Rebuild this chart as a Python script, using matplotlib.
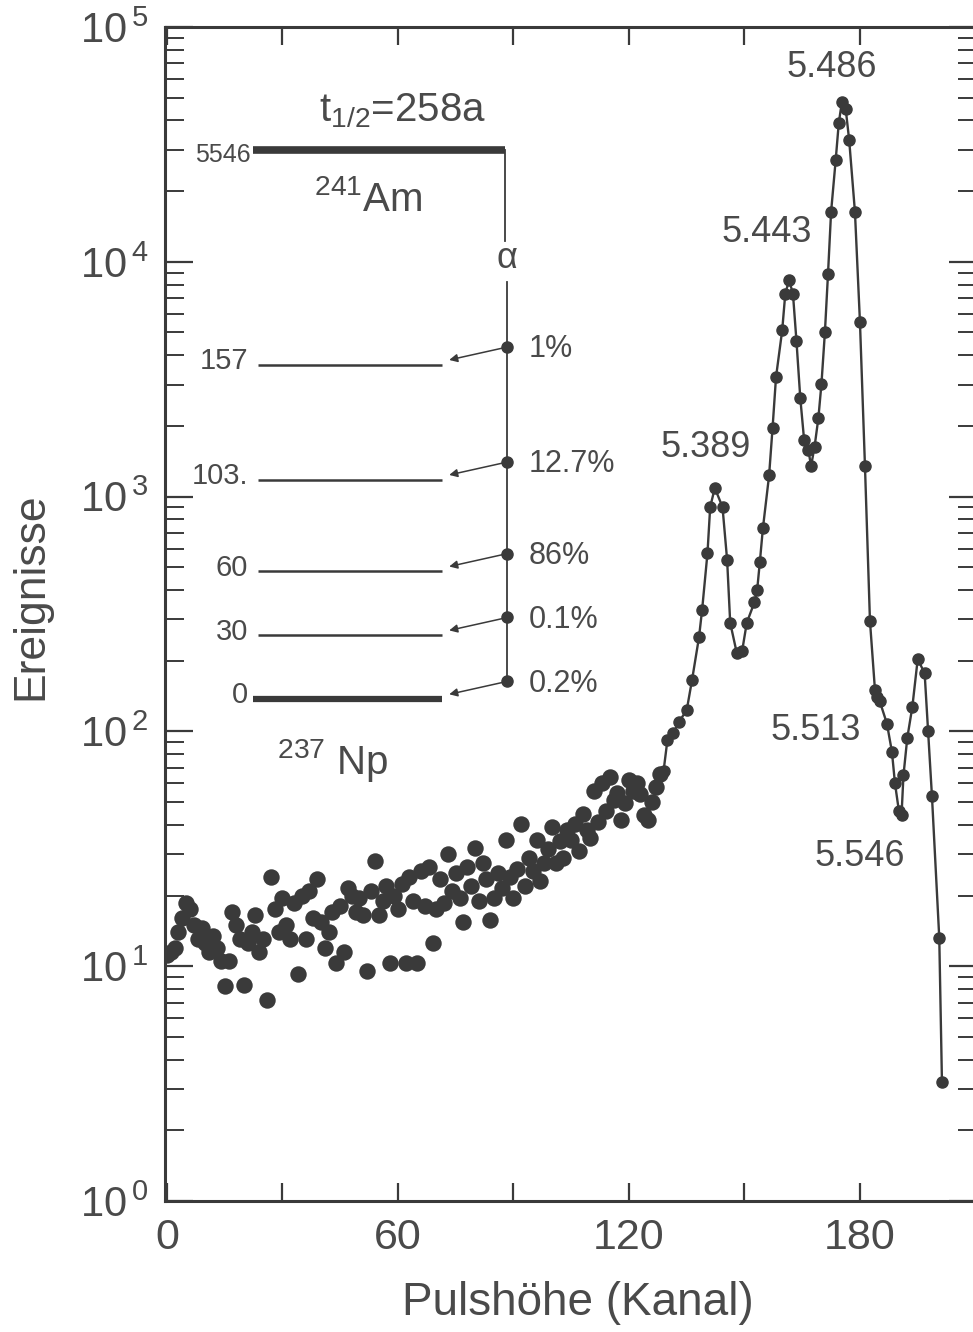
import numpy as np
import matplotlib
matplotlib.use("Agg")
import matplotlib.pyplot as plt
from matplotlib.ticker import LogLocator, NullFormatter

plt.rcParams['font.family'] = ['Liberation Sans', 'DejaVu Sans']
plt.rcParams['mathtext.default'] = 'regular'

INK = '#3a3a3a'
TXT = '#4a4a4a'

# background part of the spectrum (channels 0..128, points only)
bg_channel = np.arange(0, 129)
bg_counts = [11.2, 11.5, 12, 14, 16, 18.5, 17.5, 15, 13, 14.5,
             12.5, 11.5, 13.5, 12, 10.5, 8.2, 10.5, 17, 15, 13,
             8.3, 12.5, 14, 16.5, 11.5, 13, 7.2, 24, 17.5, 14,
             19.5, 15, 13, 18.5, 9.3, 20, 13, 21, 16, 23.5,
             15.5, 12, 14, 17, 10.3, 18, 11.5, 21.5, 20, 17,
             19.5, 16.5, 9.5, 21, 28, 16.5, 19, 22, 10.3, 20,
             17.5, 22.5, 10.3, 24, 19, 10.3, 25.5, 18, 26.5, 12.5,
             17.5, 23.5, 18.5, 30, 21, 25, 19.5, 15.5, 26.5, 22,
             32, 19, 27.5, 23.5, 15.7, 19.5, 25, 21.5, 34.5, 24,
             19.5, 26, 40.5, 22, 29, 25.5, 34.5, 23, 27.5, 31.5,
             39, 27.5, 34, 29, 38, 34.5, 40.5, 31, 44.5, 38,
             35, 56, 41, 60, 46, 64, 51, 54.6, 42, 49.5,
             62, 56, 60, 54, 44, 42, 50, 58, 66]

# alpha peak region (points joined by a line)
pk_channel = [129, 130, 131.5, 133, 135, 136.4, 138.2, 139, 140.4, 141.1,
              142.3, 144.3, 145.5, 146.3, 148, 149.4, 150.6, 152.6, 153.3, 154,
              154.8, 156.4, 157.3, 158.2, 159.8, 160.6, 161.6, 162.6, 163.5, 164.5,
              165.5, 166.6, 167.3, 168.2, 169.2, 170, 170.9, 171.7, 172.5, 173.7,
              174.5, 175.3, 176.3, 177.2, 178.7, 180, 181.3, 182.6, 183.9, 184.5,
              185.1, 187, 188.3, 189.1, 190.1, 190.8, 191.3, 192.3, 193.6, 195,
              196.8, 197.7, 198.7, 200.6, 201.3]
pk_counts = [68, 92, 98, 110, 123, 166, 252, 329, 575, 903,
             1088, 903, 537, 290, 216, 220, 290, 355, 400, 527,
             735, 1230, 1960, 3230, 5100, 7300, 8360, 7300, 4620, 2630,
             1740, 1580, 1350, 1626, 2160, 3020, 5020, 8870, 16300, 27160,
             39000, 47900, 44700, 33000, 16300, 5540, 1350, 295, 150, 140,
             135, 108, 82, 60, 46, 44, 65, 94, 127, 203,
             177, 100, 53, 13.2, 3.2]

peak_labels = ['5.389', '5.443', '5.486', '5.513', '5.546']
peak_label_x = [140, 155.8, 172.7, 168.6, 180]
peak_label_y = [1626, 13270, 66900, 101, 29.2]

# 237Np level scheme fed by the 241Am alpha decay
levels_kev = [0, 30, 60, 103, 157]
level_names = ['0', '30', '60', '103.', '157']
branching = ['0.2%', '0.1%', '86%', '12.7%', '1%']

fig = plt.figure(figsize=(9.73, 13.32), dpi=100)
ax = fig.add_axes([165 / 973, 1 - 1201 / 1332, (977 - 165) / 973, (1201 - 27) / 1332])
ax.set_yscale('log')

ax.scatter(bg_channel, bg_counts, s=140, color=INK, linewidths=0, zorder=3)
ax.plot(pk_channel, pk_counts, '-o', color=INK, lw=1.7, ms=8, zorder=3)

for lab, lx, ly in zip(peak_labels, peak_label_x, peak_label_y):
    ax.text(lx, ly, lab, fontsize=26, color=TXT, ha='center', va='center')

ax.set_xlim(-0.5, 210.4)
ax.set_ylim(1, 1e5)

ax.set_xticks([0, 30, 60, 90, 120, 150, 180])
ax.set_xticklabels(['0', '', '60', '', '120', '', '180'])
ax.set_yticks([10.0 ** k for k in range(6)])
ax.set_yticklabels([r'$10^{\,%d}$' % k for k in range(6)])
ax.yaxis.set_minor_locator(LogLocator(base=10, subs=np.arange(2, 10)))
ax.yaxis.set_minor_formatter(NullFormatter())

ax.tick_params(axis='x', which='major', direction='in', top=True, length=13,
               width=1.6, color=INK, labelsize=31, labelcolor=TXT, pad=12)
ax.tick_params(axis='y', which='major', direction='in', right=True, length=20,
               width=1.6, color=INK, labelsize=30, labelcolor=TXT, pad=12)
ax.tick_params(axis='y', which='minor', direction='in', right=True, length=14,
               width=1.4, color=INK)
for sp in ax.spines.values():
    sp.set_color(INK)
    sp.set_linewidth(2.2)

ax.set_xlabel('Pulshöhe (Kanal)', fontsize=33, color=TXT)
ax.set_ylabel('Ereignisse', fontsize=32, color=TXT)
ax.xaxis.set_label_coords(0.508, -0.068)
ax.yaxis.set_label_coords(-0.14, 0.515)

# level scheme, drawn in axes fractions
T = ax.transAxes


def level_y(e):
    return 0.4276 + 0.001814 * e


ax.plot([0.1085, 0.419], [0.8952, 0.8952], color=INK, lw=5.5, transform=T,
        solid_capstyle='butt')
ax.plot([0.419, 0.419], [0.8952, 0.818], color=INK, lw=1.3, transform=T)
ax.plot([0.4215, 0.4215], [0.783, level_y(0) + 0.015], color=INK, lw=1.3, transform=T)
ax.text(0.105, 0.891, '5546', fontsize=18, color=TXT, ha='right', va='center', transform=T)
ax.text(0.292, 0.929, r'$t_{1/2}$=258a', fontsize=29, color=TXT, ha='center',
        va='center', transform=T)
ax.text(0.250, 0.853, r'$^{241}$Am', fontsize=29, color=TXT, ha='center',
        va='center', transform=T)
ax.text(0.4217, 0.803, 'α', fontsize=26, color=TXT, ha='center', va='center', transform=T)
ax.text(0.206, 0.3756, r'$^{237}$ Np', fontsize=29, color=TXT, ha='center',
        va='center', transform=T)

for e, name, br in zip(levels_kev, level_names, branching):
    yl = level_y(e)
    x0 = 0.1085 if e == 0 else 0.115
    ax.plot([x0, 0.3415], [yl, yl], color=INK, lw=4.5 if e == 0 else 1.8,
            transform=T, solid_capstyle='butt')
    ax.text(0.1023, yl + 0.003, name, fontsize=21, color=TXT, ha='right',
            va='center', transform=T)
    yd = yl + 0.015
    ax.plot([0.4215], [yd], 'o', color=INK, ms=8, transform=T)
    ax.annotate('', xy=(0.350, yl + 0.004), xytext=(0.4215, yd),
                xycoords=T, textcoords=T,
                arrowprops=dict(arrowstyle='-|>', color=INK, lw=1.1,
                                mutation_scale=12, shrinkA=0, shrinkB=0))
    ax.text(0.4476, yd - 0.002, br, fontsize=22, color=TXT, ha='left',
            va='center', transform=T)

fig.savefig('out.png', dpi=100)
